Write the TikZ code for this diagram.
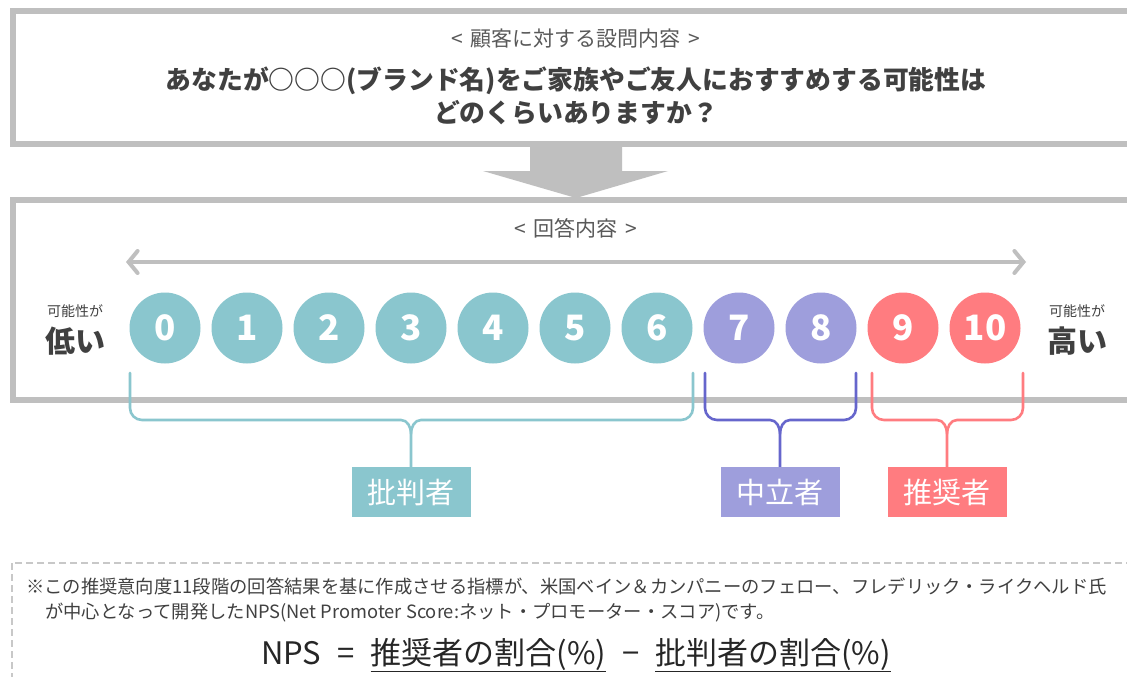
\documentclass[tikz,border=0pt]{standalone}
\usepackage{fontspec}
\setmainfont{Noto Sans CJK JP}
\usetikzlibrary{arrows.meta}
\definecolor{bgray}{HTML}{BFBFBF}
\definecolor{dgray}{HTML}{C8C8C8}
\definecolor{txt}{HTML}{404040}
\definecolor{subtxt}{HTML}{595959}
\definecolor{tealc}{HTML}{8AC6CE}
\definecolor{purc}{HTML}{9E9EDC}
\definecolor{purb}{HTML}{6666CC}
\definecolor{redc}{HTML}{FF7C80}
\newcommand\fs[2]{\fontsize{#1}{#2}\selectfont}
\newcommand\bracepath[5]{% color, left x, right x, mid x, name
  \coordinate (#5) at (#4,467);
  \draw[bracestyle, #1] (#2,373) -- (#2,408) to[out=-90,in=180] (#2+12,420) -- (#4-10,420) to[out=0,in=90] (#4,434) -- (#5);
  \draw[bracestyle, #1] (#3,373) -- (#3,408) to[out=-90,in=0] (#3-12,420) -- (#4+10,420) to[out=180,in=90] (#4,434);
}
\begin{document}
\begin{tikzpicture}[x=1pt,y=-1pt,
  frame/.style={draw=bgray, line width=5.5pt},
  sub/.style={text=subtxt, font=\fs{21}{24}},
  quest/.style={text=txt, font=\fs{25.8}{33}\bfseries, align=center},
  circ/.style={circle, minimum size=71pt, inner sep=0pt, text=white, font=\fs{35}{35}\bfseries},
  bracestyle/.style={line width=2.6pt, line cap=round},
  lab/.style={minimum width=119pt, minimum height=50pt, inner sep=0pt, text=white, font=\fs{29}{29}, anchor=north},
  small/.style={text=txt, font=\fs{14}{16}},
  big/.style={text=txt, font=\fs{30}{30}\bfseries},
  gline/.style={draw=bgray, line width=4pt, line cap=round},
  note/.style={text=txt, font=\fs{18.3}{22}, anchor=west, inner sep=0pt}
]
\useasboundingbox (0,0) rectangle (1127,677);
\clip (0,0) rectangle (1127,677);
\fill[white] (0,0) rectangle (1127,677);

% question box
\draw[frame] (13,11) rectangle (1145,144);
\node[sub] (q0) at (576,39) {<\hspace{8pt}顧客に対する設問内容\hspace{8pt}>};
\node[quest] (q1) at (576,96) {あなたが○○○(ブランド名)をご家族やご友人におすすめする可能性は\\どのくらいありますか？};

% block arrow
\fill[bgray] (530,146) -- (622,146) -- (622,171) -- (668,171) -- (576,198) -- (483,171) -- (530,171) -- cycle;

% answer box
\draw[frame] (13,200) rectangle (1145,400);
\node[sub] (a0) at (576,228) {<\hspace{8pt}回答内容\hspace{8pt}>};
\coordinate (al) at (126,262);
\coordinate (ar) at (1026,262);
\draw[gline, {Straight Barb[length=9pt,width=22pt,line cap=round]}-{Straight Barb[length=9pt,width=22pt,line cap=round]}] (al) -- (ar);

\node[small] (l1) at (75,311) {可能性が};
\node[big] (l2) at (75,341) {低い};
\node[small] (r1) at (1077,311) {可能性が};
\node[big] (r2) at (1077,341) {高い};

\foreach \i in {0,...,6} \node[circ, fill=tealc] (c\i) at (165+82*\i,328) {\i};
\foreach \i in {7,8} \node[circ, fill=purc] (c\i) at (165+82*\i,328) {\i};
\foreach \i in {9,10} \node[circ, fill=redc] (c\i) at (165+82*\i,328) {\i};

% braces
\bracepath{tealc}{130}{693}{411}{t1}
\bracepath{purb}{705}{856}{780}{t2}
\bracepath{redc}{872}{1023}{947}{t3}
\node[lab, fill=tealc] (d) at (t1) {批判者};
\node[lab, fill=purc] (n) at (t2) {中立者};
\node[lab, fill=redc] (p) at (t3) {推奨者};

% note box
\draw[draw=dgray, line width=2.5pt, dash pattern=on 7pt off 4pt] (12,563) rectangle (1145,700);
\node[note] (n1) at (26,586) {※この推奨意向度11段階の回答結果を基に作成させる指標が、米国ベイン＆カンパニーのフェロー、フレデリック・ライクヘルド氏};
\node[note] (n2) at (45,613) {が中心となって開発したNPS(Net Promoter Score:ネット・プロモーター・スコア)です。};
\node[text=black!85, font=\fs{31}{32}] (f) at (576,655) {NPS\hspace{16pt}=\hspace{16pt}\underline{推奨者の割合(\%)}\hspace{16pt}−\hspace{16pt}\underline{批判者の割合(\%)}};
\end{tikzpicture}
\end{document}
